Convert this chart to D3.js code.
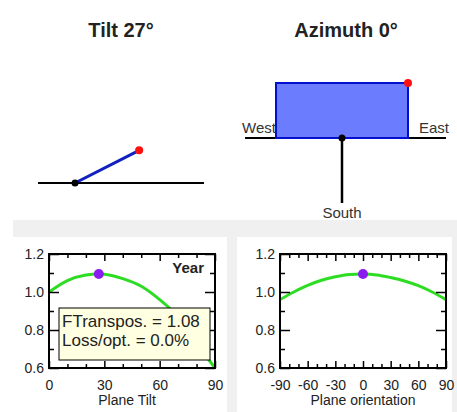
<!DOCTYPE html>
<html>
<head>
<meta charset="utf-8">
<script src="https://cdn.jsdelivr.net/npm/d3@7"></script>
<style>
  body { margin: 0; background: #fff; }
  svg { display: block; font-family: "Liberation Sans", Arial, sans-serif; }
</style>
</head>
<body>
<svg id="chart" width="457" height="412"></svg>
<script>
// Plane settings shown in the two diagrams
const tiltDeg = 27;
const azimuthDeg = 0;

// Transposition factor vs plane tilt (Year)
const tiltAngles = [0, 10, 20, 27, 30, 40, 50, 60, 70, 80, 85, 90];
const tiltFactor = [1.00, 1.06, 1.09, 1.095, 1.094, 1.07, 1.03, 0.96, 0.87, 0.74, 0.665, 0.60];

// Transposition factor vs plane orientation
const orientAngles = [-90, -75, -60, -45, -30, -15, 0, 15, 30, 45, 60, 75, 90];
const orientFactor = [0.96, 1.00, 1.035, 1.062, 1.08, 1.092, 1.095, 1.09, 1.076, 1.058, 1.033, 1.0, 0.96];

const yTicks = [0.6, 0.8, 1.0, 1.2];
const yMinor = [0.7, 0.9, 1.1];
const tiltTicks = [0, 30, 60, 90];
const tiltMinor = [10, 20, 40, 50, 70, 80];
const orientTicks = [-90, -60, -30, 0, 30, 60, 90];
const orientMinor = [-80, -70, -50, -40, -20, -10, 10, 20, 40, 50, 70, 80];

const legendLines = ['FTranspos. = 1.08', 'Loss/opt. = 0.0%'];

const svg = d3.select('#chart');
const green = '#2edc24';
const purple = '#8a1cf0';

// gray separators around the lower panels
svg.append('rect').attr('x', 13).attr('y', 220).attr('width', 444).attr('height', 17).attr('fill', '#f0f0f0');
svg.append('rect').attr('x', 227).attr('y', 220).attr('width', 10).attr('height', 192).attr('fill', '#f0f0f0');
svg.append('rect').attr('x', 452).attr('y', 220).attr('width', 5).attr('height', 192).attr('fill', '#f0f0f0');

// ---------- Tilt diagram ----------
const tiltG = svg.append('g');
tiltG.append('text').attr('x', 121).attr('y', 37).attr('text-anchor', 'middle')
  .attr('font-size', 20).attr('font-weight', 'bold').attr('fill', '#222')
  .text(`Tilt ${tiltDeg}°`);

const pivot = { x: 75, y: 183 };
const armLen = 72;
const rad = tiltDeg * Math.PI / 180;
const tip = { x: pivot.x + armLen * Math.cos(rad), y: pivot.y - armLen * Math.sin(rad) };

tiltG.append('line').attr('x1', 38).attr('x2', 204).attr('y1', pivot.y).attr('y2', pivot.y)
  .attr('stroke', '#000').attr('stroke-width', 2);
tiltG.append('line').attr('x1', pivot.x).attr('y1', pivot.y).attr('x2', tip.x).attr('y2', tip.y)
  .attr('stroke', '#1020c0').attr('stroke-width', 3);
tiltG.append('circle').attr('cx', pivot.x).attr('cy', pivot.y).attr('r', 3.5).attr('fill', '#000');
tiltG.append('circle').attr('cx', tip.x).attr('cy', tip.y).attr('r', 4).attr('fill', '#ff1010');

// ---------- Azimuth diagram ----------
const azG = svg.append('g');
azG.append('text').attr('x', 346).attr('y', 37).attr('text-anchor', 'middle')
  .attr('font-size', 20).attr('font-weight', 'bold').attr('fill', '#222')
  .text(`Azimuth ${azimuthDeg}°`);

const azC = { x: 342, y: 138 };
azG.append('line').attr('x1', 245).attr('x2', 446).attr('y1', azC.y).attr('y2', azC.y)
  .attr('stroke', '#000').attr('stroke-width', 2);
azG.append('text').attr('x', 242).attr('y', 133).attr('font-size', 15).attr('fill', '#333').text('West');
azG.append('text').attr('x', 419).attr('y', 133).attr('font-size', 15).attr('fill', '#333').text('East');

const panelW = 132, panelH = 55;
const plane = azG.append('g').attr('transform', `rotate(${-azimuthDeg},${azC.x},${azC.y})`);
plane.append('rect').attr('x', azC.x - panelW / 2).attr('y', azC.y - panelH)
  .attr('width', panelW).attr('height', panelH)
  .attr('fill', '#6c7cff').attr('stroke', '#0010d0').attr('stroke-width', 2);
plane.append('line').attr('x1', azC.x).attr('x2', azC.x).attr('y1', azC.y).attr('y2', azC.y + 65)
  .attr('stroke', '#000').attr('stroke-width', 2.5);
plane.append('circle').attr('cx', azC.x).attr('cy', azC.y).attr('r', 3.5).attr('fill', '#000');
plane.append('circle').attr('cx', azC.x + panelW / 2).attr('cy', azC.y - panelH).attr('r', 4).attr('fill', '#ff1010');
azG.append('text').attr('x', azC.x).attr('y', 218).attr('text-anchor', 'middle')
  .attr('font-size', 15).attr('fill', '#333').text('South');

// ---------- Factor plots ----------
function drawPlot(opts) {
  const g = svg.append('g');
  const x = d3.scaleLinear().domain(opts.xDomain).range([opts.left, opts.right]);
  const y = d3.scaleLinear().domain([0.6, 1.2]).range([368, 254]);
  const clipId = 'clip' + opts.left;

  g.append('clipPath').attr('id', clipId).append('rect')
    .attr('x', opts.left).attr('y', 254).attr('width', opts.right - opts.left).attr('height', 114);

  const line = d3.line().x((d, i) => x(opts.xs[i])).y(d => y(d)).curve(d3.curveMonotoneX);
  g.append('path').datum(opts.ys).attr('clip-path', `url(#${clipId})`)
    .attr('d', line).attr('fill', 'none').attr('stroke', green).attr('stroke-width', 3);

  g.append('circle').attr('cx', x(opts.dot[0])).attr('cy', y(opts.dot[1])).attr('r', 5).attr('fill', purple);

  const fmtX = d => String(d);
  const clean = sel => { sel.select('.domain').remove(); sel.selectAll('line').attr('stroke', '#000').attr('stroke-width', 1.5); };
  const labelStyle = s => s.selectAll('text').attr('font-size', 14).attr('fill', '#222').attr('font-family', 'Liberation Sans, Arial');

  // bottom: major with labels, minor without
  g.append('g').attr('transform', 'translate(0,368)')
    .call(d3.axisBottom(x).tickValues(opts.xTicks).tickSize(-7).tickPadding(12).tickFormat(fmtX))
    .call(clean).call(labelStyle);
  g.append('g').attr('transform', 'translate(0,368)')
    .call(d3.axisBottom(x).tickValues(opts.xMinor).tickSize(-4).tickFormat(''))
    .call(clean);
  // top
  g.append('g').attr('transform', 'translate(0,254)')
    .call(d3.axisTop(x).tickValues(opts.xTicks).tickSize(-7).tickFormat(''))
    .call(clean);
  g.append('g').attr('transform', 'translate(0,254)')
    .call(d3.axisTop(x).tickValues(opts.xMinor).tickSize(-4).tickFormat(''))
    .call(clean);
  // left with labels
  g.append('g').attr('transform', `translate(${opts.left},0)`)
    .call(d3.axisLeft(y).tickValues(yTicks).tickSize(-10).tickPadding(5).tickFormat(d3.format('.1f')))
    .call(clean).call(labelStyle);
  g.append('g').attr('transform', `translate(${opts.left},0)`)
    .call(d3.axisLeft(y).tickValues(yMinor).tickSize(-5).tickFormat(''))
    .call(clean);
  // right
  g.append('g').attr('transform', `translate(${opts.right},0)`)
    .call(d3.axisRight(y).tickValues(yTicks).tickSize(-10).tickFormat(''))
    .call(clean);
  g.append('g').attr('transform', `translate(${opts.right},0)`)
    .call(d3.axisRight(y).tickValues(yMinor).tickSize(-5).tickFormat(''))
    .call(clean);

  // frame
  g.append('rect').attr('x', opts.left).attr('y', 254).attr('width', opts.right - opts.left).attr('height', 114)
    .attr('fill', 'none').attr('stroke', '#000').attr('stroke-width', 2);

  g.append('text').attr('x', opts.titleX).attr('y', 405).attr('text-anchor', 'middle')
    .attr('font-size', 14).attr('fill', '#222').text(opts.title);

  return { g, x, y };
}

const tiltPlot = drawPlot({
  left: 49, right: 215, xDomain: [0, 90],
  xs: tiltAngles, ys: tiltFactor, dot: [tiltDeg, 1.095],
  xTicks: tiltTicks, xMinor: tiltMinor, title: 'Plane Tilt', titleX: 127
});

tiltPlot.g.append('text').attr('x', 204).attr('y', 273).attr('text-anchor', 'end')
  .attr('font-size', 15).attr('font-weight', 'bold').attr('fill', '#222').text('Year');

// legend box over the tilt curve
const legend = tiltPlot.g.append('g');
legend.append('rect').attr('x', 59).attr('y', 308).attr('width', 151).attr('height', 52)
  .attr('fill', '#ffffe1').attr('stroke', '#000').attr('stroke-width', 1);
legend.selectAll('text.leg').data(legendLines).join('text').attr('class', 'leg')
  .attr('x', 62).attr('y', (d, i) => 327 + i * 19)
  .attr('font-size', 17).attr('fill', '#222').text(d => d);

drawPlot({
  left: 280, right: 446, xDomain: [-90, 90],
  xs: orientAngles, ys: orientFactor, dot: [azimuthDeg, 1.095],
  xTicks: orientTicks, xMinor: orientMinor, title: 'Plane orientation', titleX: 363
});
</script>
</body>
</html>
